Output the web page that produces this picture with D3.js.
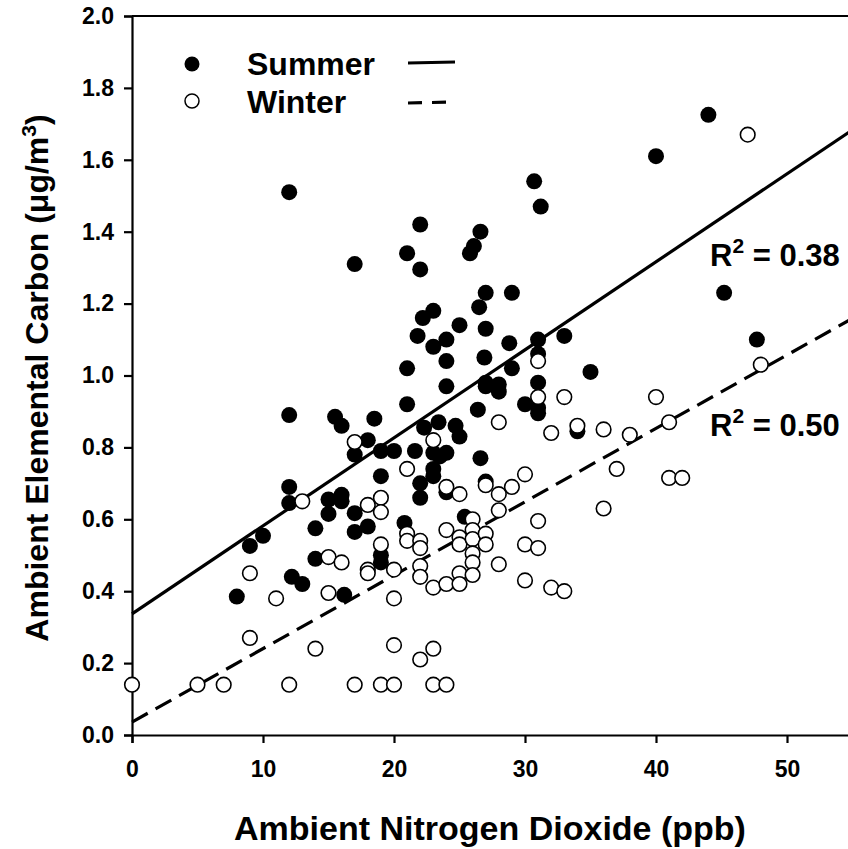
<!DOCTYPE html>
<html>
<head>
<meta charset="utf-8">
<script src="https://cdn.jsdelivr.net/npm/d3@7/dist/d3.min.js"></script>
<style>
  html, body { margin: 0; padding: 0; background: #fff; }
  text { font-family: "Liberation Sans", Arial, sans-serif; font-weight: bold; }
</style>
</head>
<body>
<svg id="chart" width="848" height="849"></svg>
<script>
// 夏 (塗りつぶし) : [NO2 ppb, EC ug/m3]
var summerPts = [
    [12,1.51],[17,1.31],[21,1.34],[22,1.42],[22,1.295],[25.8,1.34],[26.1,1.36],[26.6,1.40],[30.7,1.54],[31.2,1.47],
    [27,1.23],[29,1.23],[23,1.18],[22.2,1.16],[26.5,1.19],[25,1.14],[27,1.13],[21.8,1.11],[24,1.10],[23,1.08],
    [28.8,1.09],[31,1.10],[33,1.11],[31,1.06],[24,1.04],[26.9,1.05],[21,1.02],[29,1.02],[35,1.01],
    [24,0.97],[27,0.98],[28,0.975],[27,0.97],[28,0.955],[31,0.98],[30,0.92],[31,0.91],[31,0.895],[26.4,0.905],[21,0.92],
    [12,0.89],[15.5,0.885],[16,0.86],[18.5,0.88],[23.4,0.87],[24.7,0.86],[22.3,0.855],[25,0.83],[34,0.845],
    [18,0.82],[17,0.78],[19,0.79],[20,0.79],[21.6,0.79],[23,0.785],[24,0.785],[23.5,0.775],[26.6,0.77],
    [23,0.74],[19,0.72],[23,0.72],[22,0.70],[27,0.705],[24,0.675],[22,0.66],
    [12,0.69],[12,0.645],[15,0.655],[16,0.668],[16,0.65],[15,0.615],[17,0.617],[18,0.58],[14,0.575],[17,0.565],
    [20.8,0.59],[25.4,0.607],[10,0.554],[9,0.526],[14,0.49],[19,0.50],[19,0.48],[12.2,0.44],[13,0.42],[8,0.385],[16.2,0.39],
    [44,1.725],[40,1.61],[45.2,1.23],[47.7,1.10]
];
// 冬 (白抜き)
var winterPts = [
    [0,0.14],[5,0.14],[7,0.14],[12,0.14],[17,0.14],[19,0.14],[20,0.14],[23,0.14],[24,0.14],
    [9,0.27],[14,0.24],[20,0.25],[22,0.21],[23,0.24],
    [9,0.45],[11,0.38],[15,0.395],[20,0.38],[13,0.65],[15,0.495],[16,0.48],[17,0.815],[18,0.64],[18,0.46],[18,0.45],
    [19,0.66],[19,0.62],[19,0.53],[20,0.46],[21,0.74],[21,0.56],[21,0.54],[22,0.54],[22,0.52],[22,0.47],[22,0.44],
    [23,0.82],[23,0.41],[24,0.69],[24,0.57],[24,0.42],[25,0.67],[25,0.55],[25,0.53],[25,0.45],[25,0.42],
    [26,0.60],[26,0.57],[26,0.545],[26,0.505],[26,0.48],[26,0.445],[27,0.695],[27,0.56],[27,0.53],
    [28,0.87],[28,0.67],[28,0.625],[28,0.475],[29,0.69],[30,0.725],[30,0.53],[30,0.43],
    [31,1.04],[31,0.94],[31,0.595],[31,0.52],[32,0.84],[32,0.41],[33,0.94],[33,0.40],[34,0.86],
    [36,0.85],[36,0.63],[37,0.74],[38,0.835],[40,0.94],[41,0.87],[41,0.715],[42,0.715],[47,1.67],[48,1.03]
];
// 回帰直線 [切片, 傾き]
var summerFit = [0.337, 0.02448];
var winterFit = [0.036, 0.02042];
var r2Labels = ["0.38", "0.50"];

var xTicks = [0, 10, 20, 30, 40, 50];
var yTicks = [0, 0.2, 0.4, 0.6, 0.8, 1.0, 1.2, 1.4, 1.6, 1.8, 2.0];

var svg = d3.select("#chart");
var x = d3.scaleLinear().domain([0, 55]).range([132, 852.5]);
var y = d3.scaleLinear().domain([0, 2]).range([735, 16]);

// 軸
var yAxis = svg.append("g").attr("transform", "translate(" + x(0) + ",0)")
    .call(d3.axisLeft(y).tickValues(yTicks).tickSize(8).tickPadding(10).tickFormat(d3.format(".1f")));
var xAxis = svg.append("g").attr("transform", "translate(0," + y(0) + ")")
    .call(d3.axisBottom(x).tickValues(xTicks).tickSize(8).tickPadding(18).tickFormat(d3.format("d")));
[xAxis, yAxis].forEach(function (g) {
    g.select(".domain").attr("stroke-width", 2.2);
    g.selectAll(".tick line").attr("stroke-width", 2.2);
    g.selectAll(".tick text").attr("font-size", 23).attr("fill", "#000")
        .style("font-family", "'Liberation Sans', Arial, sans-serif").style("font-weight", "bold");
});
// 上枠
svg.append("line").attr("x1", x(0)).attr("x2", 848).attr("y1", y(2)).attr("y2", y(2))
    .attr("stroke", "#000").attr("stroke-width", 2.2);

// 回帰直線
function fitLine(fit) {
    return d3.line().x(function (d) { return x(d); }).y(function (d) { return y(fit[0] + fit[1] * d); })([0, 55]);
}
svg.append("path").attr("d", fitLine(summerFit)).attr("fill", "none")
    .attr("stroke", "#000").attr("stroke-width", 3.2);
svg.append("path").attr("d", fitLine(winterFit)).attr("fill", "none")
    .attr("stroke", "#000").attr("stroke-width", 3.2).attr("stroke-dasharray", "18,9");

// 点
svg.append("g").selectAll("circle").data(summerPts).enter().append("circle")
    .attr("cx", function (d) { return x(d[0]); }).attr("cy", function (d) { return y(d[1]); })
    .attr("r", 8).attr("fill", "#000");
svg.append("g").selectAll("circle").data(winterPts).enter().append("circle")
    .attr("cx", function (d) { return x(d[0]); }).attr("cy", function (d) { return y(d[1]); })
    .attr("r", 7.3).attr("fill", "#fff").attr("stroke", "#000").attr("stroke-width", 1.6);

// 凡例
var legend = svg.append("g");
legend.append("circle").attr("cx", 192).attr("cy", 64).attr("r", 7.5).attr("fill", "#000");
legend.append("circle").attr("cx", 192).attr("cy", 101).attr("r", 7).attr("fill", "#fff")
    .attr("stroke", "#000").attr("stroke-width", 1.5);
legend.append("text").attr("x", 247).attr("y", 75).attr("font-size", 32).text("Summer");
legend.append("text").attr("x", 247).attr("y", 113).attr("font-size", 32).text("Winter");
legend.append("line").attr("x1", 408).attr("x2", 455).attr("y1", 63).attr("y2", 62)
    .attr("stroke", "#000").attr("stroke-width", 3.2);
legend.append("line").attr("x1", 408).attr("x2", 455).attr("y1", 103).attr("y2", 102)
    .attr("stroke", "#000").attr("stroke-width", 3.2).attr("stroke-dasharray", "14,10");

// R2
[[r2Labels[0], 266], [r2Labels[1], 436]].forEach(function (r) {
    var t = svg.append("text").attr("x", 710).attr("y", r[1]).attr("font-size", 31);
    t.append("tspan").text("R");
    t.append("tspan").attr("font-size", 21).attr("dy", -13).text("2");
    t.append("tspan").attr("dy", 13).text(" = " + r[0]);
});

// 軸タイトル
svg.append("text").attr("x", 490).attr("y", 840).attr("text-anchor", "middle")
    .attr("font-size", 34).text("Ambient Nitrogen Dioxide (ppb)");
var yt = svg.append("text").attr("transform", "translate(48,378) rotate(-90)")
    .attr("text-anchor", "middle").attr("font-size", 32);
yt.append("tspan").text("Ambient Elemental Carbon (\u03bcg/m");
yt.append("tspan").attr("font-size", 21).attr("dy", -12).text("3");
yt.append("tspan").attr("dy", 12).text(")");
</script>
</body>
</html>
